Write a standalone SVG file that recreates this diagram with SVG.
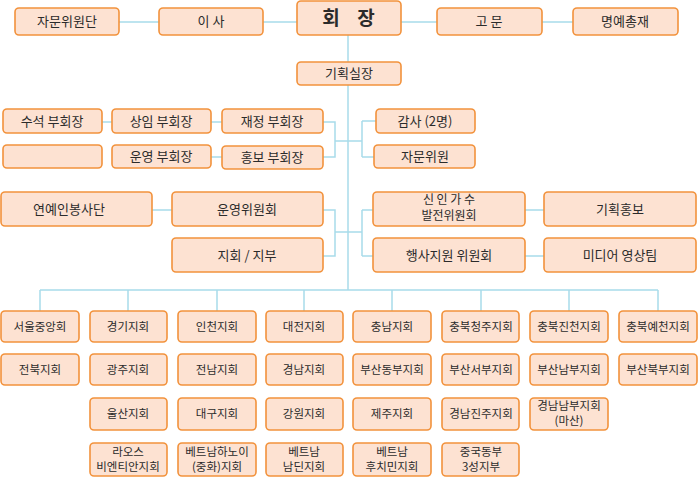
<svg xmlns="http://www.w3.org/2000/svg" width="698" height="481" viewBox="0 0 698 481">
<style>
.b{fill:#FDE2D2;stroke:#F2923C;stroke-width:1.6}
.t{font-family:"Noto Sans CJK KR","Noto Sans",sans-serif;font-size:13px;fill:#2b2b2b;text-anchor:middle}
.s{font-size:11.5px}
.m{font-size:12px}
.h{font-size:19px;font-weight:bold}
.c{stroke:#A8DBEA;stroke-width:1.5;fill:none}
</style>
<rect width="698" height="481" fill="#fff"/>
<g id="connectors" class="c">
<path d="M119 22H159M263 22H297M401 22H437M542 22H573"/>
<path d="M348 35V290"/>
<path d="M102 122H112M211 122H222M323 122H335V157H323M211 157H222M335 141H362M362 121V157M362 121H376M362 157H374"/>
<path d="M152 210H172M323 210H335V256H323M335 232H362M362 210V256M362 210H373M362 256H373M525 210H544M525 256H544"/>
<path d="M40 290H658M40 290V311M128 290V311M217 290V311M304 290V311M392 290V311M481 290V311M569 290V311M658 290V311"/>
</g>
<g id="n_jamunwiwondan"><rect class="b" x="15" y="8" width="104" height="27" rx="4"/><text class="t" x="67" y="26">자문위원단</text></g>
<g id="n_isa"><rect class="b" x="159" y="8" width="104" height="27" rx="4"/><text class="t" x="211" y="26">이 사</text></g>
<g id="n_hoejang"><rect class="b" x="297" y="1" width="104" height="34" rx="4"/><text class="t h" x="331" y="25">회</text><text class="t h" x="366" y="25">장</text></g>
<g id="n_gomun"><rect class="b" x="437" y="8" width="105" height="27" rx="4"/><text class="t" x="489" y="26">고 문</text></g>
<g id="n_myeongye"><rect class="b" x="573" y="8" width="105" height="27" rx="4"/><text class="t" x="625" y="26">명예총재</text></g>
<g id="n_gihoek"><rect class="b" x="297" y="62" width="104" height="23" rx="4"/><text class="t" x="349" y="78">기획실장</text></g>
<g id="n_suseok"><rect class="b" x="3" y="109" width="99" height="24" rx="4"/><text class="t" x="52" y="126">수석 부회장</text></g>
<g id="n_sangim"><rect class="b" x="112" y="109" width="99" height="24" rx="4"/><text class="t" x="161" y="126">상임 부회장</text></g>
<g id="n_jaejeong"><rect class="b" x="222" y="109" width="101" height="24" rx="4"/><text class="t" x="272" y="126">재정 부회장</text></g>
<g id="n_empty"><rect class="b" x="3" y="145" width="99" height="23" rx="4"/></g>
<g id="n_unyeong"><rect class="b" x="112" y="145" width="99" height="23" rx="4"/><text class="t" x="161" y="161">운영 부회장</text></g>
<g id="n_hongbo"><rect class="b" x="222" y="146" width="101" height="23" rx="4"/><text class="t" x="272" y="162">홍보 부회장</text></g>
<g id="n_gamsa"><rect class="b" x="376" y="109" width="99" height="24" rx="4"/><text class="t" x="425" y="126">감사 (2명)</text></g>
<g id="n_jamunwiwon"><rect class="b" x="374" y="145" width="101" height="23" rx="4"/><text class="t" x="425" y="161">자문위원</text></g>
<g id="n_yeonye"><rect class="b" x="1" y="192" width="151" height="34" rx="4"/><text class="t" x="69" y="214">연예인봉사단</text></g>
<g id="n_unyeongwi"><rect class="b" x="172" y="192" width="151" height="34" rx="4"/><text class="t" x="247" y="214">운영위원회</text></g>
<g id="n_jihoe"><rect class="b" x="172" y="238" width="151" height="34" rx="4"/><text class="t" x="247" y="260">지회 / 지부</text></g>
<g id="n_sinin"><rect class="b" x="373" y="192" width="152" height="34" rx="4"/><text class="t m" x="449" y="204">신 인 가 수</text><text class="t m" x="449" y="220">발전위원회</text></g>
<g id="n_gihoekhongbo"><rect class="b" x="544" y="192" width="152" height="34" rx="4"/><text class="t" x="620" y="214">기획홍보</text></g>
<g id="n_haengsa"><rect class="b" x="373" y="238" width="152" height="34" rx="4"/><text class="t" x="449" y="260">행사지원 위원회</text></g>
<g id="n_media"><rect class="b" x="544" y="238" width="152" height="34" rx="4"/><text class="t" x="620" y="260">미디어 영상팀</text></g>
<g id="n_seoul"><rect class="b" x="1" y="311" width="78" height="31" rx="4"/><text class="t s" x="40" y="331">서울중앙회</text></g>
<g id="n_gyeonggi"><rect class="b" x="90" y="311" width="77" height="31" rx="4"/><text class="t s" x="128" y="331">경기지회</text></g>
<g id="n_incheon"><rect class="b" x="178" y="311" width="78" height="31" rx="4"/><text class="t s" x="217" y="331">인천지회</text></g>
<g id="n_daejeon"><rect class="b" x="266" y="311" width="77" height="31" rx="4"/><text class="t s" x="304" y="331">대전지회</text></g>
<g id="n_chungnam"><rect class="b" x="353" y="311" width="78" height="31" rx="4"/><text class="t s" x="392" y="331">충남지회</text></g>
<g id="n_cheongju"><rect class="b" x="442" y="311" width="77" height="31" rx="4"/><text class="t s" x="481" y="331">충북청주지회</text></g>
<g id="n_jincheon"><rect class="b" x="530" y="311" width="78" height="31" rx="4"/><text class="t s" x="569" y="331">충북진천지회</text></g>
<g id="n_yecheon"><rect class="b" x="619" y="311" width="78" height="31" rx="4"/><text class="t s" x="658" y="331">충북예천지회</text></g>
<g id="n_jeonbuk"><rect class="b" x="1" y="354" width="78" height="31" rx="4"/><text class="t s" x="40" y="374">전북지회</text></g>
<g id="n_gwangju"><rect class="b" x="90" y="354" width="77" height="31" rx="4"/><text class="t s" x="128" y="374">광주지회</text></g>
<g id="n_jeonnam"><rect class="b" x="178" y="354" width="78" height="31" rx="4"/><text class="t s" x="217" y="374">전남지회</text></g>
<g id="n_gyeongnam"><rect class="b" x="266" y="354" width="77" height="31" rx="4"/><text class="t s" x="304" y="374">경남지회</text></g>
<g id="n_busandong"><rect class="b" x="353" y="354" width="78" height="31" rx="4"/><text class="t s" x="392" y="374">부산동부지회</text></g>
<g id="n_busanseo"><rect class="b" x="442" y="354" width="77" height="31" rx="4"/><text class="t s" x="481" y="374">부산서부지회</text></g>
<g id="n_busannam"><rect class="b" x="530" y="354" width="78" height="31" rx="4"/><text class="t s" x="569" y="374">부산남부지회</text></g>
<g id="n_busanbuk"><rect class="b" x="619" y="354" width="78" height="31" rx="4"/><text class="t s" x="658" y="374">부산북부지회</text></g>
<g id="n_ulsan"><rect class="b" x="90" y="398" width="77" height="32" rx="4"/><text class="t s" x="128" y="418">울산지회</text></g>
<g id="n_daegu"><rect class="b" x="178" y="398" width="78" height="32" rx="4"/><text class="t s" x="217" y="418">대구지회</text></g>
<g id="n_gangwon"><rect class="b" x="266" y="398" width="77" height="32" rx="4"/><text class="t s" x="304" y="418">강원지회</text></g>
<g id="n_jeju"><rect class="b" x="353" y="398" width="78" height="32" rx="4"/><text class="t s" x="392" y="418">제주지회</text></g>
<g id="n_jinju"><rect class="b" x="442" y="398" width="77" height="32" rx="4"/><text class="t s" x="481" y="418">경남진주지회</text></g>
<g id="n_gyeongnamnambu"><rect class="b" x="530" y="398" width="78" height="32" rx="4"/><text class="t s" x="569" y="410">경남남부지회</text><text class="t s" x="569" y="425">(마산)</text></g>
<g id="n_laos"><rect class="b" x="90" y="443" width="77" height="33" rx="4"/><text class="t s" x="128" y="456">라오스</text><text class="t s" x="128" y="471">비엔티안지회</text></g>
<g id="n_hanoi"><rect class="b" x="178" y="443" width="78" height="33" rx="4"/><text class="t s" x="217" y="456">베트남하노이</text><text class="t s" x="217" y="471">(중화)지회</text></g>
<g id="n_namdinh"><rect class="b" x="266" y="443" width="77" height="33" rx="4"/><text class="t s" x="304" y="456">베트남</text><text class="t s" x="304" y="471">남딘지회</text></g>
<g id="n_hochiminh"><rect class="b" x="353" y="443" width="78" height="33" rx="4"/><text class="t s" x="392" y="456">베트남</text><text class="t s" x="392" y="471">후치민지회</text></g>
<g id="n_china"><rect class="b" x="442" y="443" width="77" height="33" rx="4"/><text class="t s" x="481" y="456">중국동부</text><text class="t s" x="481" y="471">3성지부</text></g>
</svg>
